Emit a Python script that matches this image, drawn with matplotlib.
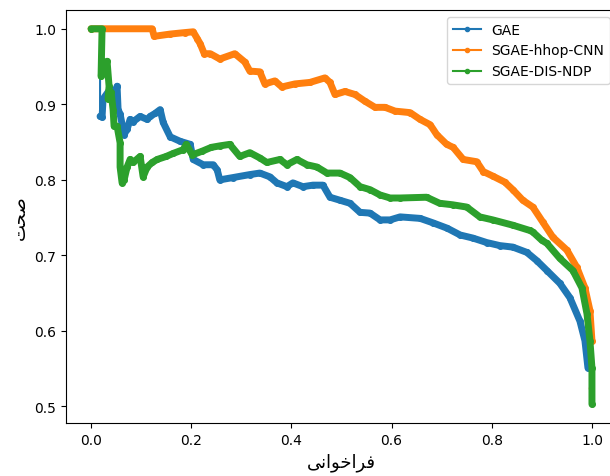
import matplotlib
matplotlib.use("Agg")
import matplotlib.pyplot as plt
from matplotlib.lines import Line2D

# Persian labels (presentation forms, visual order)
x_label = "\uFBFD\uFEE7\uFE8D\uFEEE\uFEA7\uFE8D\uFEAE\uFED3"   # فراخوانی
y_label = "\uFE96\uFEA4\uFEBB"                                 # صحت

series_names = ["GAE", "SGAE-hhop-CNN", "SGAE-DIS-NDP"]
colors = ["#1f77b4", "#ff7f0e", "#2ca02c"]

gae_recall = [0.0, 0.018, 0.018, 0.022, 0.024, 0.038, 0.046, 0.052, 0.054, 0.058, 0.066, 0.072,
              0.078, 0.084, 0.098, 0.112, 0.118, 0.128, 0.138, 0.144, 0.158, 0.178, 0.198, 0.204,
              0.224, 0.244, 0.252, 0.257, 0.283, 0.317, 0.337, 0.357, 0.371, 0.391, 0.403, 0.423,
              0.443, 0.463, 0.477, 0.497, 0.517, 0.537, 0.557, 0.577, 0.597, 0.617, 0.657, 0.683,
              0.711, 0.737, 0.762, 0.790, 0.816, 0.842, 0.870, 0.890, 0.910, 0.936, 0.956, 0.976,
              0.986, 0.992]
gae_precision = [1.0, 1.0, 0.884, 0.883, 0.907, 0.92, 0.907, 0.924, 0.893, 0.887, 0.86, 0.867,
                 0.88, 0.877, 0.884, 0.88, 0.884, 0.888, 0.893, 0.876, 0.857, 0.851, 0.847, 0.827,
                 0.82, 0.82, 0.813, 0.80, 0.803, 0.807, 0.809, 0.804, 0.796, 0.791, 0.796, 0.791,
                 0.793, 0.793, 0.777, 0.773, 0.769, 0.757, 0.756, 0.747, 0.747, 0.751, 0.749, 0.743,
                 0.736, 0.727, 0.723, 0.717, 0.713, 0.711, 0.704, 0.693, 0.68, 0.663, 0.644, 0.613,
                 0.587, 0.551]

hhop_recall = [0.0, 0.122, 0.126, 0.158, 0.188, 0.204, 0.212, 0.218, 0.226, 0.238, 0.257, 0.287,
               0.307, 0.317, 0.337, 0.347, 0.367, 0.381, 0.407, 0.437, 0.467, 0.477, 0.487, 0.507,
               0.527, 0.547, 0.567, 0.587, 0.607, 0.637, 0.657, 0.677, 0.690, 0.710, 0.723, 0.743,
               0.770, 0.783, 0.802, 0.826, 0.842, 0.862, 0.882, 0.902, 0.922, 0.950, 0.970, 0.986,
               0.996, 1.0, 0.998]
hhop_precision = [1.0, 1.0, 0.99, 0.993, 0.995, 0.996, 0.987, 0.98, 0.967, 0.967, 0.96, 0.967,
                  0.956, 0.944, 0.943, 0.927, 0.931, 0.923, 0.927, 0.929, 0.935, 0.929, 0.913, 0.917,
                  0.913, 0.904, 0.896, 0.896, 0.891, 0.889, 0.88, 0.873, 0.86, 0.847, 0.843, 0.827,
                  0.824, 0.811, 0.805, 0.797, 0.787, 0.773, 0.764, 0.744, 0.724, 0.707, 0.684, 0.657,
                  0.627, 0.587, 0.524]

dis_recall = [0.0, 0.022, 0.02, 0.024, 0.032, 0.036, 0.034, 0.040, 0.044, 0.046, 0.052, 0.058,
              0.058, 0.062, 0.066, 0.072, 0.078, 0.084, 0.098, 0.104, 0.112, 0.122, 0.132, 0.150,
              0.164, 0.184, 0.190, 0.202, 0.222, 0.240, 0.257, 0.277, 0.297, 0.317, 0.337, 0.351,
              0.377, 0.391, 0.411, 0.431, 0.451, 0.471, 0.497, 0.517, 0.537, 0.557, 0.577, 0.597,
              0.617, 0.670, 0.696, 0.722, 0.750, 0.776, 0.802, 0.842, 0.876, 0.882, 0.900, 0.910,
              0.936, 0.962, 0.980, 0.990, 0.996, 1.0, 1.0]
dis_precision = [1.0, 1.0, 0.937, 0.945, 0.957, 0.924, 0.907, 0.916, 0.893, 0.871, 0.871, 0.849,
                 0.817, 0.796, 0.80, 0.817, 0.827, 0.823, 0.831, 0.804, 0.817, 0.823, 0.827, 0.831,
                 0.835, 0.84, 0.847, 0.833, 0.838, 0.843, 0.845, 0.847, 0.831, 0.836, 0.829, 0.823,
                 0.827, 0.82, 0.827, 0.82, 0.817, 0.809, 0.809, 0.803, 0.791, 0.787, 0.78, 0.776,
                 0.776, 0.777, 0.769, 0.767, 0.764, 0.751, 0.747, 0.74, 0.733, 0.731, 0.72, 0.716,
                 0.696, 0.68, 0.657, 0.623, 0.587, 0.551, 0.503]

fig = plt.figure(figsize=(6.1, 4.77), dpi=100)
ax = fig.add_axes([66 / 610, 53 / 477, 551 / 610, 413 / 477])

data = [(gae_recall, gae_precision), (hhop_recall, hhop_precision), (dis_recall, dis_precision)]
# dense (thick) part of each curve: [start, end) indices; sparse jumps stay thin
dense = [(2, len(gae_recall)), (0, len(hhop_recall) - 1), (0, len(dis_recall))]
for (rx, py), c, (s, e) in zip(data, colors, dense):
    ax.plot(rx, py, color=c, lw=1.5, marker='.', markersize=6)
    ax.plot(rx[s:e], py[s:e], color=c, lw=5, marker='.', markersize=8,
            solid_joinstyle='round', solid_capstyle='round')

handles = [Line2D([], [], color=c, lw=1.5, marker='.') for c in colors]
ax.legend(handles, series_names, loc='upper right')

ax.set_xticks([0.0, 0.2, 0.4, 0.6, 0.8, 1.0])
ax.set_yticks([0.5, 0.6, 0.7, 0.8, 0.9, 1.0])
ax.set_xlabel(x_label, fontsize=13, family=['DejaVu Sans'])
ax.set_ylabel(y_label, fontsize=13, family=['DejaVu Sans'])

fig.savefig("out.png", dpi=100)
